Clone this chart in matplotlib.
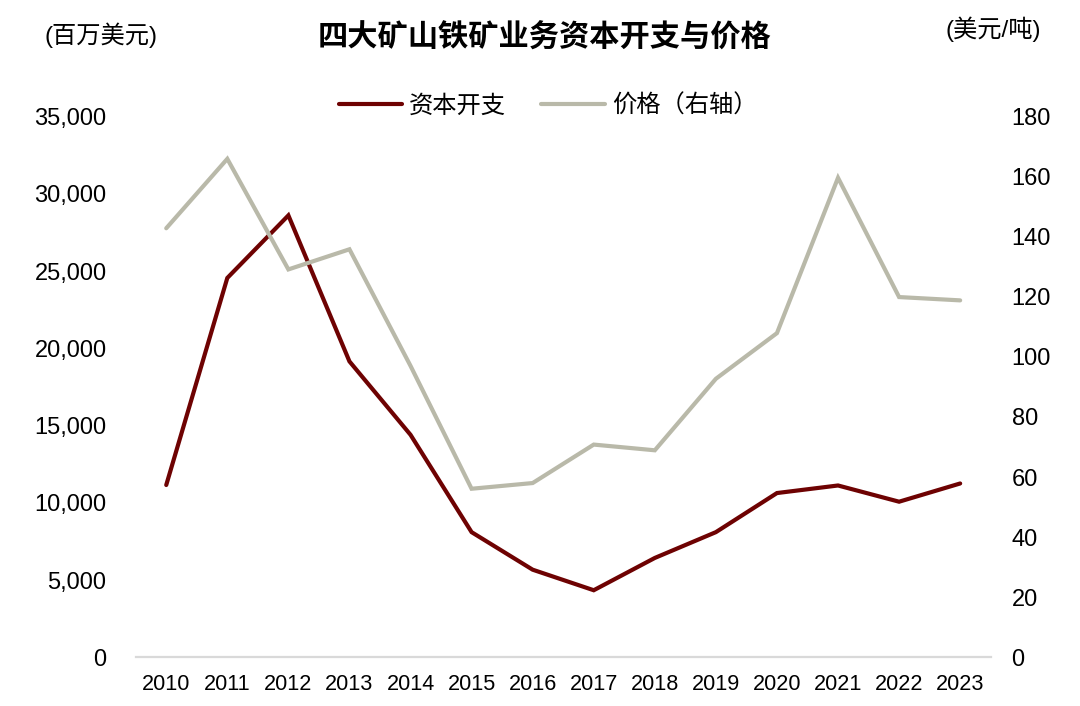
import matplotlib
matplotlib.use("Agg")
import matplotlib.pyplot as plt
from matplotlib.ticker import FuncFormatter

plt.rcParams['font.family'] = ['Liberation Sans', 'Noto Sans CJK SC', 'DejaVu Sans']

years = ['2010', '2011', '2012', '2013', '2014', '2015', '2016',
         '2017', '2018', '2019', '2020', '2021', '2022', '2023']
capex = [11150, 24550, 28600, 19150, 14400, 8100, 5670,
         4340, 6430, 8100, 10630, 11120, 10070, 11250]
price = [142.8, 165.9, 129.1, 135.8, 97.0, 56.1, 58.0,
         70.8, 68.9, 92.7, 107.9, 159.6, 119.9, 118.8]

left_ticks = [0, 5000, 10000, 15000, 20000, 25000, 30000, 35000]
right_ticks = [0, 20, 40, 60, 80, 100, 120, 140, 160, 180]

title = '四大矿山铁矿业务资本开支与价格'
left_unit = '(百万美元)'
right_unit = '(美元/吨)'
label_capex = '资本开支'
label_price = '价格（右轴）'

RED = '#6E0202'
GRAY = '#B9B9A9'

W, H = 1080, 706
fig = plt.figure(figsize=(W / 100, H / 100), dpi=100)
ax = fig.add_axes([135.7 / W, 1 - 657.3 / H, (990.7 - 135.7) / W, (657.3 - 116.5) / H])
ax2 = ax.twinx()

x = list(range(len(years)))
l1, = ax.plot(x, capex, color=RED, lw=3.0, solid_capstyle='round', solid_joinstyle='miter', label=label_capex)
l2, = ax2.plot(x, price, color=GRAY, lw=3.0, solid_capstyle='round', solid_joinstyle='miter', label=label_price)

ax.set_xlim(-0.5, len(years) - 0.5)
ax.set_ylim(0, 35000)
ax2.set_ylim(0, 180)
ax.set_yticks(left_ticks)
ax2.set_yticks(right_ticks)
ax.yaxis.set_major_formatter(FuncFormatter(lambda v, p: f'{int(v):,}'))
ax.set_xticks(x)
ax.set_xticklabels(years)

for a in (ax, ax2):
    for s in ('top', 'left', 'right', 'bottom'):
        a.spines[s].set_visible(False)
ax.spines['bottom'].set_visible(True)
ax.spines['bottom'].set_color('#D9D9D9')
ax.spines['bottom'].set_linewidth(1.6)

ax.tick_params(axis='y', length=0, labelsize=17, pad=21, colors='black')
ax2.tick_params(axis='y', length=0, labelsize=17, pad=15, colors='black')
ax.tick_params(axis='x', length=0, labelsize=15.6, pad=12, colors='black')

fig.text(545 / W, 1 - 38.5 / H, title, ha='center', va='center', fontsize=21.8, fontweight='bold')
fig.text(44 / W, 1 - 35 / H, left_unit, ha='left', va='center', fontsize=17.5)
fig.text(1041 / W, 1 - 29.5 / H, right_unit, ha='right', va='center', fontsize=17.5)

leg = fig.legend([l1, l2], [label_capex, label_price], loc='center',
                 bbox_to_anchor=(548 / W, 1 - 106 / H), ncol=2, frameon=False,
                 fontsize=17.5, handlelength=2.6, handletextpad=0.3,
                 columnspacing=1.45, borderpad=0, borderaxespad=0)

fig.savefig('out.png', dpi=100, facecolor='white')
